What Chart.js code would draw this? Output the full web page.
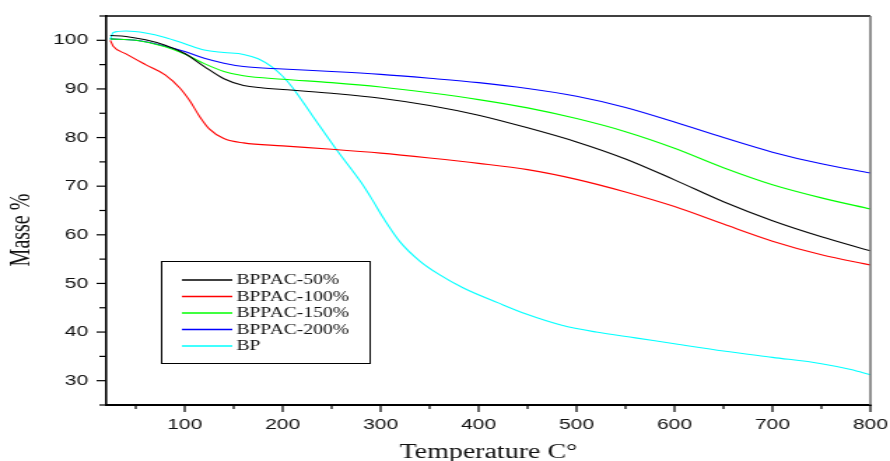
<!DOCTYPE html>
<html>
<head>
<meta charset="utf-8">
<script src="https://cdn.jsdelivr.net/npm/chart.js@4.4.1/dist/chart.umd.min.js"></script>
<style>
  html, body { margin: 0; padding: 0; background: #fff; }
  #tga { display: block; }
</style>
</head>
<body>
<!-- the plot is laid out narrow and widened by CSS, which gives the wide lettering -->
<canvas id="tga" width="636" height="461" style="width: 890px; height: 461px;"></canvas>
<script>
// TGA curves: mass loss (%) against temperature (°C)
const seriesNames = ['BPPAC-50%', 'BPPAC-100%', 'BPPAC-150%', 'BPPAC-200%', 'BP'];
const seriesColors = ['#000000', '#ff0000', '#00ff00', '#0000ff', '#00ffff'];

const bppac50Temp = [24, 40, 60, 80, 100, 120, 140, 160, 180, 200, 250, 300, 350, 400, 450, 500, 550, 600, 650, 700, 750, 800];
const bppac50Mass = [101.0, 100.8, 100.1, 99.0, 97.3, 94.6, 92.1, 90.7, 90.2, 89.9, 89.1, 88.1, 86.6, 84.6, 82.0, 79.1, 75.6, 71.3, 66.8, 62.9, 59.6, 56.7];

const bppac100Temp = [24, 27, 40, 60, 80, 95, 105, 115, 125, 140, 160, 200, 250, 300, 350, 400, 450, 500, 550, 600, 650, 700, 750, 800];
const bppac100Mass = [100.0, 98.8, 97.2, 95.0, 92.9, 90.2, 87.6, 84.4, 81.8, 79.8, 78.9, 78.3, 77.6, 76.8, 75.8, 74.7, 73.4, 71.4, 68.8, 65.8, 62.2, 58.7, 55.9, 53.8];

const bppac150Temp = [24, 50, 80, 100, 120, 140, 160, 200, 250, 300, 350, 400, 450, 500, 550, 600, 650, 700, 750, 800];
const bppac150Mass = [100.3, 100.0, 98.7, 97.2, 95.2, 93.6, 92.7, 92.0, 91.3, 90.4, 89.2, 87.8, 86.1, 83.9, 81.2, 77.8, 73.8, 70.3, 67.6, 65.3];

const bppac200Temp = [24, 50, 80, 100, 120, 140, 160, 200, 250, 300, 350, 400, 450, 500, 550, 600, 650, 700, 750, 800];
const bppac200Mass = [100.3, 100.0, 98.8, 97.7, 96.3, 95.3, 94.6, 94.1, 93.6, 93.0, 92.2, 91.3, 90.1, 88.5, 86.2, 83.2, 80.0, 77.0, 74.6, 72.7];

const bpTemp = [24, 27, 40, 60, 80, 100, 120, 140, 160, 175, 190, 200, 210, 230, 255, 280, 290, 303, 320, 340, 360, 385, 420, 450, 485, 520, 560, 600, 650, 700, 750, 780, 800];
const bpMass = [100.2, 101.6, 101.9, 101.5, 100.6, 99.3, 98.0, 97.5, 97.1, 96.2, 94.4, 92.6, 90.3, 84.6, 77.5, 70.8, 67.7, 63.4, 58.5, 54.6, 51.8, 49.0, 46.0, 43.6, 41.4, 40.0, 38.8, 37.6, 36.1, 34.8, 33.5, 32.3, 31.2];

// tick positions (labels only on the major ones)
const xTicks = [50, 100, 150, 200, 250, 300, 350, 400, 450, 500, 550, 600, 650, 700, 750, 800];
const yTicks = [25, 30, 35, 40, 45, 50, 55, 60, 65, 70, 75, 80, 85, 90, 95, 100, 105];

const temps = [bppac50Temp, bppac100Temp, bppac150Temp, bppac200Temp, bpTemp];
const masses = [bppac50Mass, bppac100Mass, bppac150Mass, bppac200Mass, bpMass];

const toPoints = (xs, ys) => xs.map((t, i) => ({ x: t, y: ys[i] }));

// minor / major tick marks plus the top and right frame lines
const frameTicks = {
    id: 'frameTicks',
    afterDraw(chart) {
        const { ctx, chartArea: a, scales: { x, y } } = chart;
        ctx.save();
        ctx.strokeStyle = '#000';
        ctx.lineWidth = 1.2;
        y.ticks.forEach(t => {
            const py = y.getPixelForValue(t.value);
            const len = t.value % 10 === 0 ? 7 : 5;
            ctx.beginPath();
            ctx.moveTo(a.left - len, py);
            ctx.lineTo(a.left, py);
            ctx.stroke();
        });
        x.ticks.forEach(t => {
            const px = x.getPixelForValue(t.value);
            const len = t.value % 100 === 0 ? 7 : 4;
            ctx.beginPath();
            ctx.moveTo(px, a.bottom);
            ctx.lineTo(px, a.bottom + len);
            ctx.stroke();
        });
        ctx.lineWidth = 1.5;
        ctx.beginPath();
        ctx.moveTo(a.left, a.top);
        ctx.lineTo(a.right, a.top);
        ctx.stroke();
        ctx.strokeStyle = '#6e6e6e';
        ctx.beginPath();
        ctx.moveTo(a.right, a.top);
        ctx.lineTo(a.right, a.bottom);
        ctx.stroke();
        ctx.restore();
    }
};

// boxed legend sitting inside the plot area
const boxLegend = {
    id: 'boxLegend',
    afterDraw(chart) {
        const ctx = chart.ctx;
        ctx.save();
        ctx.strokeStyle = '#000';
        ctx.lineWidth = 1;
        ctx.strokeRect(115.5, 261.5, 149, 102);
        ctx.font = '14px "Liberation Serif", "Times New Roman", serif';
        ctx.textBaseline = 'middle';
        ctx.fillStyle = '#111';
        chart.data.datasets.forEach((ds, i) => {
            const yy = 280 + i * 16.5;
            ctx.strokeStyle = ds.borderColor;
            ctx.lineWidth = 1.3;
            ctx.beginPath();
            ctx.moveTo(130, yy);
            ctx.lineTo(166, yy);
            ctx.stroke();
            ctx.fillText(ds.label, 169, yy + 0.5);
        });
        ctx.restore();
    }
};

// y axis title, set a little below the middle of the axis
const yTitle = {
    id: 'yTitle',
    afterDraw(chart) {
        const ctx = chart.ctx;
        ctx.save();
        ctx.translate(16, 230);
        ctx.rotate(-Math.PI / 2);
        ctx.font = '20px "Liberation Serif", "Times New Roman", serif';
        ctx.fillStyle = '#111';
        ctx.textAlign = 'center';
        ctx.textBaseline = 'middle';
        ctx.fillText('Masse %', 0, 0);
        ctx.restore();
    }
};

const tickFont = { family: '"Liberation Sans", Arial, sans-serif', size: 15 };

new Chart(document.getElementById('tga'), {
    type: 'line',
    data: {
        datasets: seriesNames.map((name, i) => ({
            label: name,
            data: toPoints(temps[i], masses[i]),
            borderColor: seriesColors[i],
            backgroundColor: seriesColors[i],
            borderWidth: 1.1,
            pointRadius: 0,
            fill: false,
            cubicInterpolationMode: 'monotone'
        }))
    },
    options: {
        responsive: false,
        animation: false,
        layout: { padding: { top: 16, right: 14, left: 0, bottom: 0 } },
        plugins: {
            legend: { display: false },
            tooltip: { enabled: false }
        },
        scales: {
            x: {
                type: 'linear',
                min: 20,
                max: 800,
                afterBuildTicks(scale) {
                    scale.ticks = xTicks.map(v => ({ value: v }));
                },
                afterFit(scale) {
                    // fixed band under the plot; the "800" label may overhang the right margin
                    scale.height = 56;
                    scale.paddingLeft = 0;
                    scale.paddingRight = 0;
                },
                ticks: {
                    autoSkip: false,
                    maxRotation: 0,
                    padding: 11,
                    color: '#111',
                    font: tickFont,
                    callback: v => (v % 100 === 0 ? String(v) : '')
                },
                grid: { display: false, drawTicks: false },
                border: { display: true, color: '#000', width: 2 },
                title: {
                    display: true,
                    text: 'Temperature C°',
                    color: '#111',
                    padding: 0,
                    font: { family: '"Liberation Serif", "Times New Roman", serif', size: 20, lineHeight: 0.8 }
                }
            },
            y: {
                type: 'linear',
                min: 25,
                max: 105,
                afterBuildTicks(scale) {
                    scale.ticks = yTicks.map(v => ({ value: v }));
                },
                afterFit(scale) {
                    scale.width = 76;
                    scale.paddingTop = 0;
                    scale.paddingBottom = 0;
                },
                ticks: {
                    autoSkip: false,
                    padding: 13,
                    color: '#111',
                    font: tickFont,
                    callback: v => (v % 10 === 0 && v >= 30 && v <= 100 ? String(v) : '')
                },
                grid: { display: false, drawTicks: false },
                border: { display: true, color: '#000', width: 1.6 }
            }
        }
    },
    plugins: [frameTicks, boxLegend, yTitle]
});
</script>
</body>
</html>
